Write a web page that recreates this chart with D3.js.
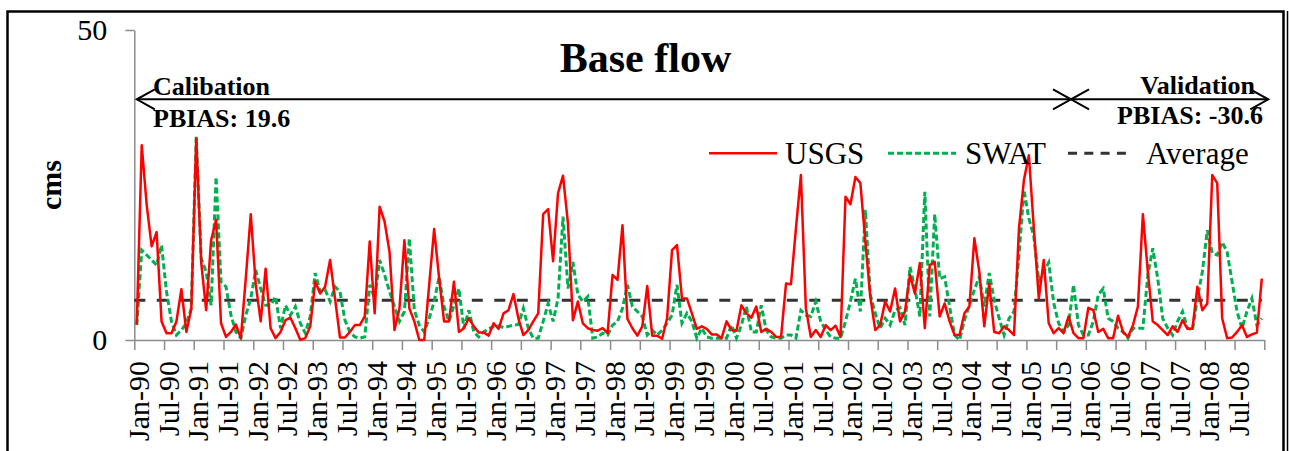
<!DOCTYPE html>
<html>
<head>
<meta charset="utf-8">
<script src="https://cdn.jsdelivr.net/npm/d3@7"></script>
<style>
  html, body { margin: 0; padding: 0; background: #fff; }
  svg { display: block; font-family: "Liberation Serif", "Times New Roman", serif; }
</style>
</head>
<body>
<svg id="chart" width="1289" height="451"></svg>
<script>
// monthly base flow, Jan-90 .. Dec-08 (cms)
const usgs = [
  2.5, 31.4, 21.8, 15.1, 17.4, 3.0, 1.1, 1.1, 3.0, 8.2, 1.3, 5.0,
  32.5, 12.5, 4.8, 16.1, 19.4, 2.7, 0.5, 1.3, 2.5, 0.3, 10.0, 20.3,
  9.0, 3.0, 11.5, 1.9, 0.3, 1.3, 3.2, 3.6, 1.9, 0.0, 0.3, 2.2,
  9.4, 7.5, 8.6, 12.9, 6.7, 0.4, 0.4, 1.3, 2.4, 2.4, 3.8, 15.9,
  4.3, 21.5, 19.1, 14.2, 1.6, 5.1, 16.1, 5.1, 3.0, 0.0, 0.0, 8.9,
  17.9, 10.0, 3.0, 3.0, 9.4, 1.3, 1.9, 3.5, 2.2, 1.2, 1.2, 0.7,
  2.7, 1.8, 4.3, 4.8, 7.4, 3.5, 0.8, 1.6, 3.0, 4.3, 20.3, 21.1,
  12.7, 23.7, 26.5, 18.8, 3.2, 6.2, 2.7, 1.9, 1.6, 1.5, 1.9, 1.1,
  10.5, 9.7, 18.5, 3.4, 1.9, 0.7, 2.2, 8.7, 0.7, 0.7, 0.2, 3.5,
  14.5, 15.3, 6.7, 6.7, 4.3, 1.8, 2.2, 1.8, 0.9, 0.9, 0.3, 3.0,
  1.6, 1.5, 5.6, 4.3, 3.6, 5.4, 1.3, 1.8, 1.3, 0.5, 0.5, 9.1,
  9.0, 18.0, 26.6, 5.1, 0.5, 1.6, 0.5, 2.4, 1.6, 2.3, 0.5, 23.1,
  21.9, 26.3, 25.3, 15.9, 7.0, 1.6, 2.4, 6.2, 4.6, 8.3, 3.0, 4.6,
  10.5, 7.5, 12.4, 1.9, 12.1, 12.6, 3.8, 5.9, 3.0, 0.8, 0.8, 4.3,
  5.4, 16.4, 11.0, 2.2, 9.1, 1.3, 1.1, 2.2, 1.6, 0.8, 18.0, 25.8,
  29.8, 18.0, 6.7, 12.9, 2.7, 1.1, 1.9, 1.1, 3.8, 1.1, 0.3, 0.3,
  5.2, 4.8, 1.3, 1.8, 0.3, 0.3, 3.9, 1.3, 0.5, 2.4, 5.4, 20.3,
  11.0, 3.0, 2.4, 1.6, 0.8, 2.2, 1.3, 3.2, 1.8, 1.8, 8.6, 4.8,
  5.9, 26.6, 25.3, 3.5, 0.3, 0.4, 1.3, 2.4, 0.5, 0.9, 1.2, 9.9
];

const swat = [
  2.4, 14.5, 13.7, 12.9, 12.1, 15.3, 7.8, 3.0, 0.8, 1.6, 2.7, 5.1,
  32.8, 13.2, 11.0, 5.6, 26.3, 9.4, 8.6, 4.0, 1.3, 0.3, 4.0, 6.7,
  11.3, 8.3, 5.6, 5.6, 7.0, 1.9, 5.6, 4.0, 5.4, 2.7, 1.1, 3.8,
  10.8, 7.8, 8.1, 6.2, 8.6, 7.8, 3.2, 1.3, 0.5, 0.3, 0.5, 8.9,
  6.7, 12.9, 10.5, 7.8, 5.4, 3.0, 4.6, 16.4, 4.8, 2.4, 1.3, 3.5,
  6.2, 10.2, 5.4, 3.0, 5.6, 8.3, 1.9, 4.8, 1.3, 0.5, 1.3, 1.8,
  2.2, 2.3, 2.0, 2.2, 2.4, 2.5, 5.1, 1.9, 0.3, 0.3, 3.0, 5.9,
  3.0, 6.7, 19.9, 8.3, 12.6, 7.3, 6.2, 7.0, 0.3, 0.5, 1.1, 0.8,
  2.4, 3.0, 5.1, 8.9, 5.4, 4.6, 3.8, 0.8, 1.6, 0.8, 1.6, 2.7,
  4.0, 8.9, 2.7, 4.3, 3.0, 0.3, 1.9, 0.5, 0.3, 0.3, 0.3, 0.3,
  2.4, 0.3, 2.4, 5.4, 1.3, 1.3, 5.6, 1.6, 0.5, 0.3, 0.3, 0.8,
  0.8, 0.3, 4.8, 4.0, 3.8, 6.2, 3.0, 1.6, 0.5, 0.3, 0.3, 3.0,
  6.2, 9.9, 4.6, 21.0, 7.3, 4.3, 1.9, 3.5, 2.4, 4.8, 5.2, 2.4,
  11.8, 8.3, 3.8, 23.9, 3.8, 20.3, 9.9, 10.2, 5.4, 0.8, 0.0, 3.2,
  5.6, 8.1, 10.2, 5.4, 10.8, 6.5, 3.5, 0.8, 3.5, 4.6, 13.7, 24.2,
  19.6, 16.7, 9.5, 11.0, 12.5, 6.0, 2.7, 1.3, 2.4, 8.9, 2.4, 0.8,
  0.8, 3.0, 7.3, 8.3, 3.5, 3.0, 1.9, 1.3, 0.3, 1.9, 1.9, 1.9,
  10.5, 14.8, 9.9, 3.5, 1.9, 0.8, 3.0, 4.6, 1.9, 1.6, 6.7, 11.0,
  17.7, 14.0, 13.7, 15.8, 14.2, 9.4, 4.6, 1.9, 4.6, 6.7, 2.4, 3.5
];

const average = 6.4;

const tickLabels = [
  "Jan-90", "Jul-90", "Jan-91", "Jul-91", "Jan-92", "Jul-92", "Jan-93", "Jul-93",
  "Jan-94", "Jul-94", "Jan-95", "Jul-95", "Jan-96", "Jul-96", "Jan-97", "Jul-97",
  "Jan-98", "Jul-98", "Jan-99", "Jul-99", "Jan-00", "Jul-00", "Jan-01", "Jul-01",
  "Jan-02", "Jul-02", "Jan-03", "Jul-03", "Jan-04", "Jul-04", "Jan-05", "Jul-05",
  "Jan-06", "Jul-06", "Jan-07", "Jul-07", "Jan-08", "Jul-08"
];

const calEnd = 189; // month boundary between calibration and validation

const svg = d3.select("#chart");
const n = usgs.length;

// category edges / centres
const xEdge = d3.scaleLinear().domain([0, n]).range([134.3, 1264.3]);
const x = i => xEdge(i + 0.5);
const y = d3.scaleLinear().domain([0, 50]).range([340, 30]);

const axisGrey = "#8c8c8c";

// frame
svg.append("rect")
  .attr("x", 7.5).attr("y", 11.5)
  .attr("width", 1276).attr("height", 460)
  .attr("fill", "none").attr("stroke", "#000").attr("stroke-width", 2.5);
svg.append("line")
  .attr("x1", 1287.5).attr("x2", 1287.5).attr("y1", 11).attr("y2", 451)
  .attr("stroke", "#000").attr("stroke-width", 1.5);

// x axis (ticks at category edges every 6 months)
const xAxis = svg.append("g")
  .attr("transform", "translate(0,340)")
  .call(d3.axisBottom(xEdge)
    .tickValues(d3.range(0, n + 1, 6))
    .tickFormat("")
    .tickSize(10)
    .tickSizeOuter(0));
xAxis.selectAll("path, line").attr("stroke", axisGrey).attr("stroke-width", 1.5);

svg.append("g").selectAll("text")
  .data(tickLabels)
  .join("text")
  .attr("transform", (d, k) => `translate(${x(k * 6) + 12},361) rotate(-90)`)
  .attr("text-anchor", "end")
  .attr("font-size", 30)
  .attr("fill", "#000")
  .text(d => d);

// y axis
const yAxis = svg.append("g")
  .attr("transform", "translate(134.3,0)")
  .call(d3.axisLeft(y).tickValues([0, 50]).tickSize(9).tickPadding(18).tickSizeOuter(0));
yAxis.selectAll("path, line").attr("stroke", axisGrey).attr("stroke-width", 1.5);
yAxis.selectAll("text")
  .attr("font-size", 30)
  .attr("font-family", "'Liberation Serif', 'Times New Roman', serif")
  .attr("fill", "#000");

svg.append("text")
  .attr("transform", "translate(61,185) rotate(-90)")
  .attr("text-anchor", "middle")
  .attr("font-size", 30)
  .attr("font-weight", "bold")
  .text("cms");

// average line
svg.append("line")
  .attr("x1", xEdge(0)).attr("x2", x(n - 1))
  .attr("y1", y(average)).attr("y2", y(average))
  .attr("stroke", "#333").attr("stroke-width", 3)
  .attr("stroke-dasharray", "11,11.5");

// series
const line = d3.line().x((d, i) => x(i)).y(d => y(d));

svg.append("path")
  .datum(swat)
  .attr("d", line)
  .attr("fill", "none")
  .attr("stroke", "#00b050")
  .attr("stroke-width", 3)
  .attr("stroke-dasharray", "6,3");

svg.append("path")
  .datum(usgs)
  .attr("d", line)
  .attr("fill", "none")
  .attr("stroke", "#ff0000")
  .attr("stroke-width", 2.5)
  .attr("stroke-linejoin", "round");

// title
svg.append("text")
  .attr("x", 645.5).attr("y", 72)
  .attr("text-anchor", "middle")
  .attr("font-size", 42)
  .attr("font-weight", "bold")
  .text("Base flow");

// calibration / validation arrows
const arrowY = 99.3;
const ah = 18, aw = 10;
const xL = xEdge(0) + 2.5, xM = xEdge(calEnd), xR = xEdge(n) + 4;
const arrows = svg.append("g").attr("stroke", "#000").attr("stroke-width", 2).attr("fill", "none");
arrows.append("line").attr("x1", xL).attr("x2", xR).attr("y1", arrowY).attr("y2", arrowY);
[[xL, 1], [xM, -1], [xM, 1], [xR, -1]].forEach(([tx, dir]) => {
  arrows.append("path")
    .attr("d", `M${tx + dir * ah},${arrowY - aw}L${tx},${arrowY}L${tx + dir * ah},${arrowY + aw}`);
});

const ann = svg.append("g").attr("font-size", 26).attr("font-weight", "bold");
ann.append("text").attr("x", 153).attr("y", 95).text("Calibation");
ann.append("text").attr("x", 153).attr("y", 126.5).text("PBIAS: 19.6");
ann.append("text").attr("x", 1255).attr("y", 94).attr("text-anchor", "end").text("Validation");
ann.append("text").attr("x", 1263).attr("y", 124).attr("text-anchor", "end").text("PBIAS: -30.6");

// legend
const legend = svg.append("g").attr("font-size", 31);
const legY = 153.3;
const items = [
  { label: "USGS", x1: 709, x2: 777, tx: 785, stroke: "#ff0000", w: 2.5, dash: null },
  { label: "SWAT", x1: 888, x2: 956, tx: 965, stroke: "#00b050", w: 3, dash: "6,3" },
  { label: "Average", x1: 1068, x2: 1126, tx: 1146, stroke: "#333", w: 3, dash: "9,7.3" }
];
items.forEach(it => {
  legend.append("line")
    .attr("x1", it.x1).attr("x2", it.x2).attr("y1", legY).attr("y2", legY)
    .attr("stroke", it.stroke).attr("stroke-width", it.w)
    .attr("stroke-dasharray", it.dash);
  legend.append("text").attr("x", it.tx).attr("y", 164).text(it.label);
});
</script>
</body>
</html>
